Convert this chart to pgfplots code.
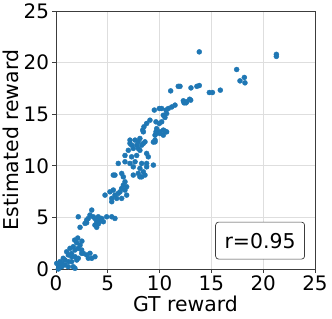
\documentclass[border=0pt]{standalone}
\usepackage{fontspec}
\setmainfont{DejaVu Sans}
\usepackage{pgfplots}
\usetikzlibrary{calc}
\pgfplotsset{compat=1.18}
\definecolor{mplblue}{RGB}{31,119,180}
\definecolor{gridgray}{RGB}{222,222,222}
\definecolor{spine}{RGB}{60,60,60}
\begin{document}
\begin{tikzpicture}
\begin{axis}[
  name=ax,
  scale only axis,
  width=259bp, height=258bp,
  xmin=0, xmax=25, ymin=0, ymax=25,
  xtick={0,5,10,15,20,25}, ytick={0,5,10,15,20,25},
  grid=major,
  major grid style={gridgray, line width=0.8pt},
  axis line style={spine, line width=0.8pt},
  tick align=outside,
  major tick length=3.5bp,
  tick style={spine, line width=0.8pt},
  xtick pos=bottom, ytick pos=left,
  /pgf/number format/assume math mode=true,
  tick label style={font=\fontsize{20}{24}\selectfont},
  label style={font=\fontsize{20.5}{24}\selectfont},
  xlabel={GT reward},
  ylabel={Estimated reward},
  xlabel style={at={(axis description cs:0.5,-0.1655)}, anchor=base},
  ylabel style={at={(axis description cs:-0.1448,0.5)}, anchor=base, rotate=0},
  clip=false,
]
\addplot[only marks, mark=*, mark size=2.5bp, mark options={draw=mplblue, fill=mplblue}] table {
x y
13.83 21.04
21.27 20.8
21.27 20.6
17.44 19.33
17.76 18.23
18.18 18.56
18.24 18.04
14.8 17.1
15.1 17.1
15.86 17.33
13.83 17.78
13.03 17.55
12.9 16.45
11.97 17.7
12.29 16.3
12.55 16.1
13.0 16.36
11.07 17.26
11.8 17.7
13.6 17.7
12.36 16.1
12.6 16.2
11.49 15.88
11.17 15.7
10.84 15.55
10.62 15.4
10.2 15.55
9.97 15.55
9.49 15.4
10.68 15.07
10.36 14.9
10.52 14.68
10.2 14.26
9.97 14.1
9.65 14.26
9.07 14.42
8.75 14.1
8.49 13.78
8.37 13.46
9.72 13.6
9.65 13.29
9.56 12.97
10.36 13.46
10.68 13.29
10.04 13.13
10.36 12.97
9.56 12.32
8.59 12.32
7.14 12.49
7.63 12.49
7.94 12.32
8.1 12.65
7.3 12.0
7.79 12.0
8.27 12.0
7.46 11.68
7.94 11.68
8.43 13.29
9.72 13.17
10.04 13.29
10.52 13.36
9.56 12.49
9.4 12.3
7.14 12.17
8.43 12.17
6.98 11.5
8.1 11.5
8.75 11.2
6.66 11.0
7.3 10.87
7.79 11.0
8.91 10.87
6.01 10.23
6.66 10.39
7.14 10.23
7.63 10.39
8.27 10.23
8.75 10.23
9.4 10.07
7.46 9.9
8.1 9.75
8.75 9.9
5.53 9.1
6.34 9.26
6.5 8.93
6.66 8.45
7.46 9.1
7.94 9.26
8.27 8.93
8.43 9.42
8.1 8.93
8.59 9.1
6.5 8.13
6.34 7.81
6.18 7.48
6.66 7.65
6.82 7.16
6.82 7.97
5.53 7.65
5.69 7.16
6.01 7.33
5.21 7.48
5.38 6.84
5.86 6.84
6.34 6.84
4.73 7.16
5.38 6.52
5.69 9.1
2.15 5.06
2.32 4.04
2.96 4.74
3.12 4.9
3.45 5.71
2.8 4.42
3.76 4.9
4.08 5.06
4.41 4.9
4.89 5.06
5.38 5.06
5.69 4.9
3.76 4.26
4.08 4.58
4.57 4.58
3.93 4.04
3.28 5.23
3.6 5.06
2.96 4.48
3.93 4.58
4.25 4.65
4.08 4.36
2.0 2.55
2.32 2.32
1.67 2.16
1.35 2.0
1.03 1.67
1.83 1.84
2.15 2.0
2.48 1.84
2.64 1.52
2.96 1.36
3.28 1.52
3.12 1.04
1.19 1.36
1.51 1.19
1.83 1.19
2.15 1.04
0.7 1.04
0.87 0.87
1.19 0.71
0.39 0.71
0.55 0.55
0.07 0.55
0.22 0.39
0.55 0.22
0.87 0.39
1.51 0.71
1.67 0.22
1.83 0.07
2.0 0.87
3.45 1.04
3.76 1.19
2.48 1.52
1.19 0.22
0.22 0.0
1.8 2.8
2.1 3.0
2.5 2.7
1.5 1.5
};
\node[draw=spine, line width=0.7pt, rounded corners=3bp, fill=white, inner sep=0pt,
      minimum width=89bp, minimum height=37bp, font=\fontsize{20.5}{24}\selectfont]
      at (axis cs:19.7,2.75) {r=0.95};
\end{axis}
\pgfresetboundingbox
\path (ax.south west) ++(-56bp,-50bp) rectangle ($(ax.north east)+(17bp,11bp)$);
\end{tikzpicture}
\end{document}
